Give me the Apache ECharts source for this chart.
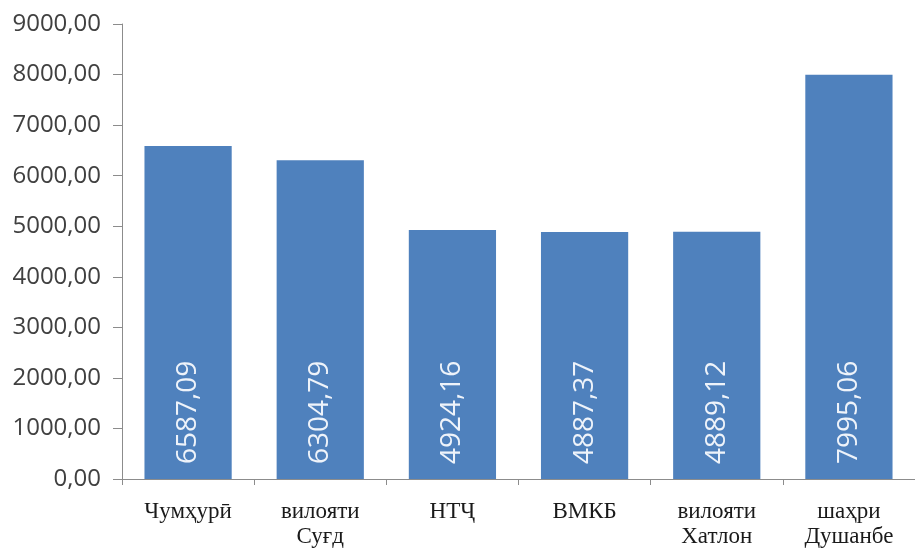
<!DOCTYPE html>
<html>
<head>
<meta charset="utf-8">
<script src="https://cdn.jsdelivr.net/npm/echarts@6/dist/echarts.min.js"></script>
<style>
  html, body { margin: 0; padding: 0; background: #fff; }
  #main { width: 915px; height: 553px; }
</style>
</head>
<body>
<div id="main"></div>
<script>
const categories = ["Чумҳурӣ", "вилояти\nСуғд", "НТҶ", "ВМКБ", "вилояти\nХатлон", "шаҳри\nДушанбе"];
const values = [6587.09, 6304.79, 4924.16, 4887.37, 4889.12, 7995.06];

function fmt(v) {
  return Number(v).toFixed(2).replace(".", ",");
}

const options = {
  animation: false,
  backgroundColor: "#ffffff",
  grid: {
    left: 122,
    top: 24,
    width: 801,
    height: 455
  },
  xAxis: {
    type: "category",
    data: categories,
    axisLine: { show: true, lineStyle: { color: "#8c8c8c", width: 1 } },
    axisTick: { show: true, length: 6, lineStyle: { color: "#8c8c8c" } },
    axisLabel: {
      color: "#1a1a1a",
      fontFamily: "Liberation Serif",
      fontSize: 23,
      lineHeight: 25,
      margin: 20,
      interval: 0
    }
  },
  yAxis: {
    type: "value",
    min: 0,
    max: 9000,
    interval: 1000,
    splitLine: { show: false },
    axisLine: { show: true, lineStyle: { color: "#8c8c8c", width: 1 } },
    axisTick: { show: true, length: 9, lineStyle: { color: "#8c8c8c" } },
    axisLabel: {
      color: "#404040",
      fontFamily: "Open Sans",
      fontSize: 24,
      margin: 21,
      formatter: fmt
    }
  },
  series: [
    {
      type: "bar",
      data: values,
      barCategoryGap: "34%",
      itemStyle: { color: "#4f81bd" },
      label: {
        show: true,
        position: "insideBottom",
        rotate: 90,
        align: "left",
        verticalAlign: "middle",
        distance: 15,
        color: "#eef3fa",
        fontFamily: "Open Sans",
        fontSize: 28,
        formatter: (p) => fmt(p.value)
      }
    }
  ]
};

var myChart = echarts.init(document.getElementById("main"));
myChart.setOption(options);
window.onresize = function() {
  myChart.resize();
};
</script>
</body>
</html>
